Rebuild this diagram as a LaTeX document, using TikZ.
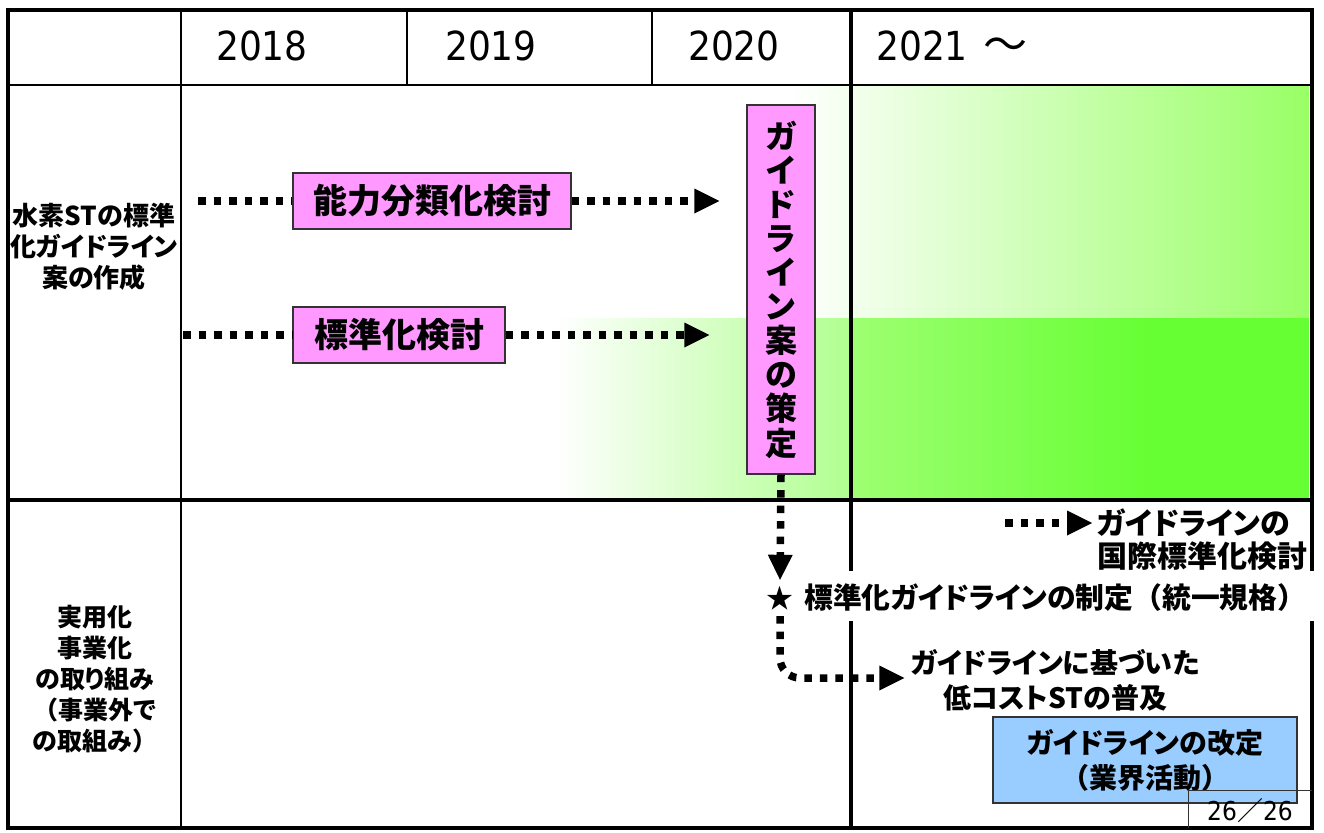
\documentclass[tikz,border=0pt]{standalone}
\usepackage{fontspec}
\setmainfont{DejaVu Sans}
\newfontfamily\jp{Noto Sans CJK JP}[RawFeature=+palt]
\newfontfamily\jpf{Noto Sans CJK JP}
\newfontfamily\yr{DejaVu Sans}[FakeStretch=0.9]
\newcommand\fwp[1]{{\jpf #1}}
\usetikzlibrary{arrows.meta}
\definecolor{pinkc}{HTML}{FF99FF}
\definecolor{bluec}{HTML}{99CCFF}
\definecolor{gA}{HTML}{99FF66}
\definecolor{gB}{HTML}{B0FF90}
\definecolor{gC}{HTML}{9EFF72}
\definecolor{gD}{HTML}{66FF33}
\definecolor{edgec}{HTML}{333333}
\begin{document}
\begin{tikzpicture}[x=1pt,y=-1pt,
  gridthin/.style={line width=1.5pt, draw=black},
  gridthick/.style={line width=3.5pt, draw=black},
  dotline/.style={line width=7.5pt, dash pattern=on 7.5pt off 8pt},
  tipped/.style={-{Triangle[length=25pt,width=25pt,line width=0pt]}},
  pinkbox/.style={draw=edgec, line width=1.2pt, fill=pinkc, inner sep=0pt, align=center,
    font=\jp\bfseries\fontsize{34}{36}\selectfont},
  bluebox/.style={draw=edgec, line width=1.2pt, fill=bluec, inner sep=0pt, align=center,
    font=\jp\bfseries\fontsize{28}{35}\selectfont},
  jlabel/.style={align=center, inner sep=0pt, font=\jp\bfseries\fontsize{26}{31}\selectfont},
  jtext/.style={inner sep=0pt, font=\jp\bfseries\fontsize{30}{33}\selectfont},
  jtextb/.style={align=center, inner sep=0pt, font=\jp\bfseries\fontsize{28}{35}\selectfont},
  yearlbl/.style={inner sep=0pt, font=\yr\fontsize{40}{40}\selectfont}
]
\useasboundingbox (0,0) rectangle (1324,832);
\fill[white] (0,0) rectangle (1324,832);

% green gradients
\shade[left color=white, right color=gA] (790,86) rectangle (1309,318);
\shade[left color=white, right color=gB] (555,318) rectangle (851,498);
\shade[left color=gC, right color=gD] (851,318) rectangle (1150,498);
\fill[gD] (1149,318) rectangle (1309,498);

% grid
\draw[gridthin] (8,85) -- (1312,85);
\draw[gridthin] (181,10) -- (181,828);
\draw[gridthin] (407,10) -- (407,85);
\draw[gridthin] (652,10) -- (652,85);
\draw[gridthick] (851,10) -- (851,828);
\draw[gridthick] (8,500) -- (1312,500);
\draw[gridthick] (8,10) rectangle (1312,828);

% white strip behind the standard text
\fill[white] (762,571) rectangle (1318,621);

% header years
\node[yearlbl] (y18) at (262,46) {2018};
\node[yearlbl] (y19) at (491,46) {2019};
\node[yearlbl] (y20) at (734,46) {2020};
\node[yearlbl, anchor=west] (y21) at (876,46) {2021\hspace{16pt}{\jpf\fontsize{44}{44}\selectfont ～}};

% row labels
\node[jlabel] (lab1) at (94,247) {水素STの標準\\化ガイドライン\\案の作成};
\node[jlabel, font=\jp\bfseries\fontsize{25}{31}\selectfont] (lab2) at (95,679)
  {実用化\\事業化\\の取り組み\\\fwp{（}事業外で\\の取組み\fwp{）}};

% boxes
\node[pinkbox, minimum width=278pt, minimum height=56pt] (b1) at (432,201) {能力分類化検討};
\node[pinkbox, minimum width=212pt, minimum height=56pt] (b2) at (399,335) {標準化検討};
\node[pinkbox, minimum width=68pt, minimum height=369pt,
  font=\jp\bfseries\fontsize{32}{34.1}\selectfont] (vb) at (781,289.5)
  {ガ\\イ\\ド\\ラ\\イ\\ン\\案\\の\\策\\定};
\node[bluebox, minimum width=304pt, minimum height=86pt] (blue) at (1145,760)
  {ガイドラインの改定\\\fwp{（}業界活動\fwp{）}};

% texts
\node[inner sep=0pt, minimum height=36pt, font=\jpf\fontsize{27}{27}\selectfont] (star) at (780,598) {★};
\node[jtext, anchor=west, font=\jp\bfseries\fontsize{28.8}{33}\selectfont] (std) at (804,598)
  {標準化ガイドラインの制定\fwp{（}統一規格\fwp{）}};
\node[jtext, align=left, anchor=west] (intl) at (1097,540) {ガイドラインの\\国際標準化検討};
\node[jtextb] (low) at (1055,680) {ガイドラインに基づいた\\低コストSTの普及};

% connectors
\coordinate (r1s) at (198,201);
\coordinate (r2s) at (183,335);
\coordinate (ia) at (1005,523);
\draw[dotline] (r1s) -- (b1.west);
\draw[dotline, tipped, shorten >=27pt] (b1.east) -- (b1.east -| vb.west);
\draw[dotline] (r2s) -- (b2.west);
\draw[dotline, tipped, shorten >=37pt] (b2.east) -- (b2.east -| vb.west);
\draw[dotline, tipped] (vb.south) -- (star.north);
\draw[dotline, tipped, rounded corners=20pt] (star.south) |- ([xshift=-6pt, yshift=2pt]low.west);
\draw[dotline, tipped, shorten >=5pt] (ia) -- (ia -| intl.west);

% page number box
\draw[line width=1pt, draw=black!80] (1188,828) |- (1312,790);
\node[inner sep=0pt, font=\fontsize{26}{26}\selectfont] (pg) at (1250,811) {{\yr 26}{\jpf ／}{\yr 26}};
\end{tikzpicture}
\end{document}
